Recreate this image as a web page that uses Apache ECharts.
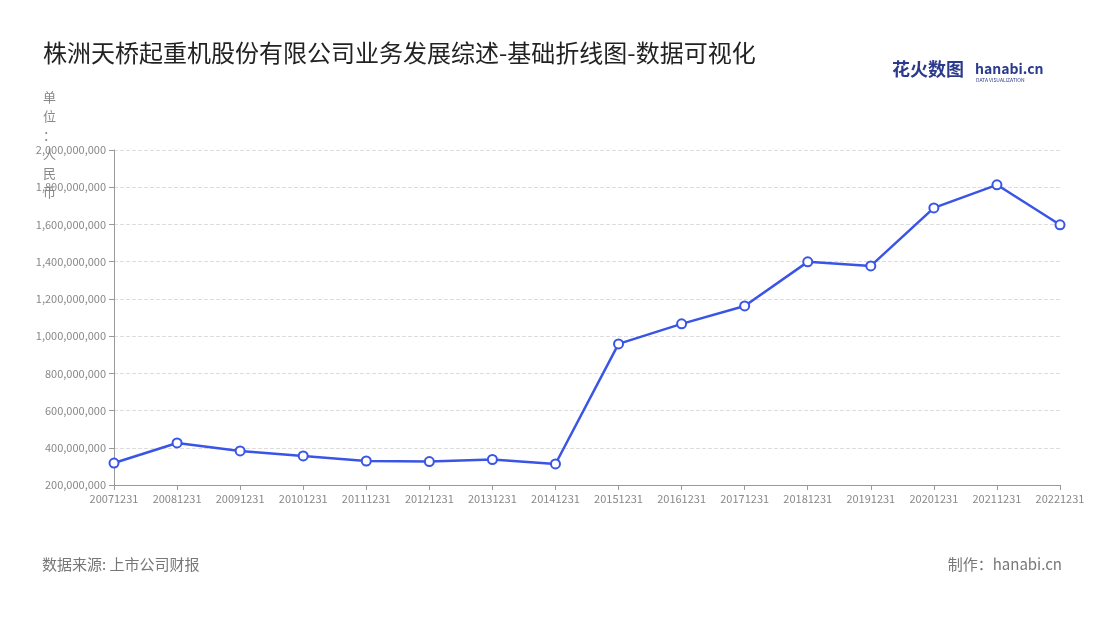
<!DOCTYPE html>
<html><head><meta charset="utf-8">
<script src="https://cdn.jsdelivr.net/npm/echarts@6/dist/echarts.min.js"></script>
<style>html,body{margin:0;padding:0;background:#fff}#c{width:1100px;height:620px}</style>
</head><body><div id="c"></div>
<script>
const categories = ['20071231','20081231','20091231','20101231','20111231','20121231','20131231','20141231','20151231','20161231','20171231','20181231','20191231','20201231','20211231','20221231'];
const values = [318000000,426000000,383000000,356000000,329000000,326000000,337000000,313000000,958000000,1066000000,1162000000,1399000000,1377000000,1689000000,1813000000,1598000000];
const titleText = '株洲天桥起重机股份有限公司业务发展综述-基础折线图-数据可视化';
const fnt = '"Noto Sans CJK SC","Noto Sans",sans-serif';
const chart = echarts.init(document.getElementById('c'));
chart.setOption({
  textStyle:{fontFamily:fnt},
  title:{text:titleText,left:38,top:36,textStyle:{fontSize:24,fontWeight:'normal',color:'#222',fontFamily:fnt}},
  graphic:[
    {type:'text',left:43,top:88,style:{text:'单\n位\n：\n人\n民\n币',fill:'#888',font:'13px '+fnt,lineHeight:19}},
    {type:'text',left:42,top:557,style:{text:'数据来源: 上市公司财报',fill:'#777',font:'15px '+fnt}},
    {type:'text',right:38,top:557,style:{text:'制作：hanabi.cn',fill:'#777',font:'15px '+fnt}},
    {type:'text',left:892,top:60,style:{text:'花火数图',fill:'#2b3a8c',font:'bold 18px '+fnt}},
    {type:'text',left:975,top:62,style:{text:'hanabi.cn',fill:'#2b3a8c',font:'bold 14px '+fnt}},
    {type:'text',left:976,top:78,style:{text:'DATA VISUALIZATION',fill:'#2b3a8c',font:'5px '+fnt}}
  ],
  grid:{left:114,right:40,top:150,bottom:135},
  xAxis:{type:'category',data:categories,boundaryGap:false,
    axisLine:{lineStyle:{color:'#999'}},axisTick:{lineStyle:{color:'#999'}},
    axisLabel:{color:'#888',fontSize:11,interval:0}},
  yAxis:{type:'value',min:200000000,max:2000000000,interval:200000000,
    axisLine:{show:true,lineStyle:{color:'#999'}},axisTick:{show:true,lineStyle:{color:'#999'}},
    splitLine:{lineStyle:{type:'dashed',color:'#ddd'}},
    axisLabel:{color:'#888',fontSize:11,formatter:v=>v.toLocaleString('en-US')}},
  series:[{type:'line',data:values,symbol:'circle',symbolSize:9,
    lineStyle:{color:'#3a55e6',width:2.5},
    itemStyle:{color:'#fff',borderColor:'#3a55e6',borderWidth:2}}]
});
</script></body></html>
